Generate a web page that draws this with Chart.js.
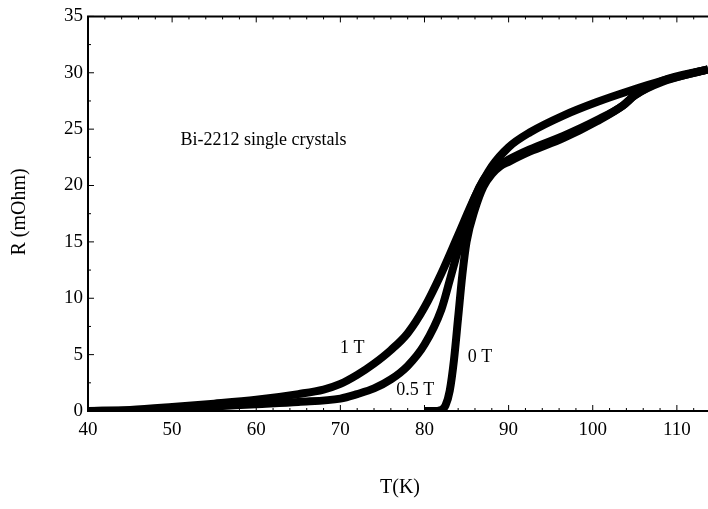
<!DOCTYPE html>
<html>
<head>
<meta charset="utf-8">
<script src="https://cdn.jsdelivr.net/npm/chart.js@4"></script>
<style>
  html, body { margin: 0; padding: 0; background: #fff; }
  #wrap { width: 708px; height: 509px; }
</style>
</head>
<body>
<div id="wrap"><canvas id="rt"></canvas></div>
<script>
// R(T) of Bi-2212 single crystals at three fields
const t1T = [40, 45, 50, 55, 60, 65, 68, 70, 72, 74, 76, 78, 80, 82, 84, 86, 88, 90, 92.5, 96.5, 100.5, 104.4, 108.3, 113.7];
const r1T = [0, 0.1, 0.35, 0.65, 1.0, 1.5, 1.9, 2.4, 3.2, 4.2, 5.4, 6.9, 9.2, 12.2, 15.6, 19.0, 21.7, 23.4, 24.7, 26.2, 27.4, 28.4, 29.3, 30.3];

const tHalfT = [40, 45, 50, 55, 60, 65, 70, 72, 74, 76, 78, 80, 82, 83, 84, 85, 86, 87, 88, 90, 92.5, 96.5, 100.5, 103.6, 105, 108.3, 113.7];
const rHalfT = [0, 0.05, 0.2, 0.4, 0.6, 0.8, 1.1, 1.5, 2.0, 2.8, 4.0, 5.9, 9.0, 11.6, 14.3, 16.9, 19.0, 20.5, 21.4, 22.3, 23.2, 24.4, 25.8, 27.1, 28.0, 29.3, 30.3];

const t0T = [80, 81, 82, 82.5, 83, 83.5, 84, 84.5, 85, 86, 87, 88, 89, 90, 92.5, 96.5, 100.5, 103.6, 105, 108.3, 113.7];
const r0T = [0, 0, 0.1, 0.5, 1.8, 4.5, 8.3, 12.1, 15.0, 17.9, 19.9, 21.0, 21.7, 22.1, 23.0, 24.2, 25.7, 27.1, 28.0, 29.2, 30.3];

const xTicks = [40, 50, 60, 70, 80, 90, 100, 110];
const yTicks = [0, 5, 10, 15, 20, 25, 30, 35];

// curve labels: [text, T, R]
const curveLabels = [['1 T', 71.4, 5.6], ['0.5 T', 78.9, 1.85], ['0 T', 86.6, 4.75]];
const note = ['Bi-2212 single crystals', 51, 24.0];

const serif = '"Liberation Serif", "Times New Roman", serif';
const ink = '#000';

function pts(xs, ys) {
  return xs.map((x, i) => ({ x: x, y: ys[i] }));
}

function series(label, xs, ys) {
  return {
    label: label,
    data: pts(xs, ys),
    borderColor: ink,
    borderWidth: 8,
    pointRadius: 0,
    cubicInterpolationMode: 'monotone',
    fill: false
  };
}

const decor = {
  id: 'decor',
  afterDraw(chart) {
    const { ctx, chartArea: a, scales: { x, y } } = chart;
    ctx.save();
    // frame: left, bottom, top
    ctx.strokeStyle = ink;
    ctx.lineWidth = 2;
    ctx.beginPath();
    ctx.moveTo(a.right, a.top); ctx.lineTo(a.left, a.top);
    ctx.lineTo(a.left, a.bottom); ctx.lineTo(a.right, a.bottom);
    ctx.stroke();

    // inward ticks
    ctx.lineWidth = 1;
    ctx.beginPath();
    for (let v = 40; v <= 114; v += 2) {
      const px = x.getPixelForValue(v);
      const len = v % 10 === 0 ? 6 : 3;
      ctx.moveTo(px, a.bottom); ctx.lineTo(px, a.bottom - len);
      ctx.moveTo(px, a.top); ctx.lineTo(px, a.top + len);
    }
    for (let v = 0; v <= 35; v += 2.5) {
      const py = y.getPixelForValue(v);
      const len = v % 5 === 0 ? 6 : 3;
      ctx.moveTo(a.left, py); ctx.lineTo(a.left + len, py);
    }
    ctx.stroke();

    // curve labels and note
    ctx.fillStyle = ink;
    ctx.font = '18px ' + serif;
    ctx.textAlign = 'center';
    ctx.textBaseline = 'middle';
    curveLabels.forEach(([txt, tv, rv]) => {
      ctx.fillText(txt, x.getPixelForValue(tv), y.getPixelForValue(rv));
    });
    ctx.textAlign = 'left';
    ctx.fillText(note[0], x.getPixelForValue(note[1]), y.getPixelForValue(note[2]));

    // axis titles
    ctx.font = '20px ' + serif;
    ctx.textAlign = 'center';
    ctx.fillText('T(K)', 400, 488);
    ctx.translate(20, 212);
    ctx.rotate(-Math.PI / 2);
    ctx.fillText('R (mOhm)', 0, 0);
    ctx.restore();
  }
};

new Chart(document.getElementById('rt'), {
  type: 'line',
  data: {
    datasets: [
      series('1 T', t1T, r1T),
      series('0.5 T', tHalfT, rHalfT),
      series('0 T', t0T, r0T)
    ]
  },
  options: {
    responsive: true,
    maintainAspectRatio: false,
    animation: false,
    layout: { padding: { top: 13, right: 0, left: 0, bottom: 0 } },
    plugins: { legend: { display: false }, tooltip: { enabled: false } },
    scales: {
      x: {
        type: 'linear',
        min: 40,
        max: 113.7,
        afterBuildTicks: s => { s.ticks = xTicks.map(v => ({ value: v })); },
        afterFit: s => { s.height = 98; },
        grid: { display: false, drawTicks: false },
        border: { display: false },
        ticks: { padding: 8, color: ink, font: { family: serif, size: 19 }, maxRotation: 0 }
      },
      y: {
        min: 0,
        max: 35,
        afterBuildTicks: s => { s.ticks = yTicks.map(v => ({ value: v })); },
        afterFit: s => { s.width = 88; },
        grid: { display: false, drawTicks: false },
        border: { display: false },
        ticks: { padding: 5, color: ink, font: { family: serif, size: 19 } }
      }
    }
  },
  plugins: [decor]
});
</script>
</body>
</html>
